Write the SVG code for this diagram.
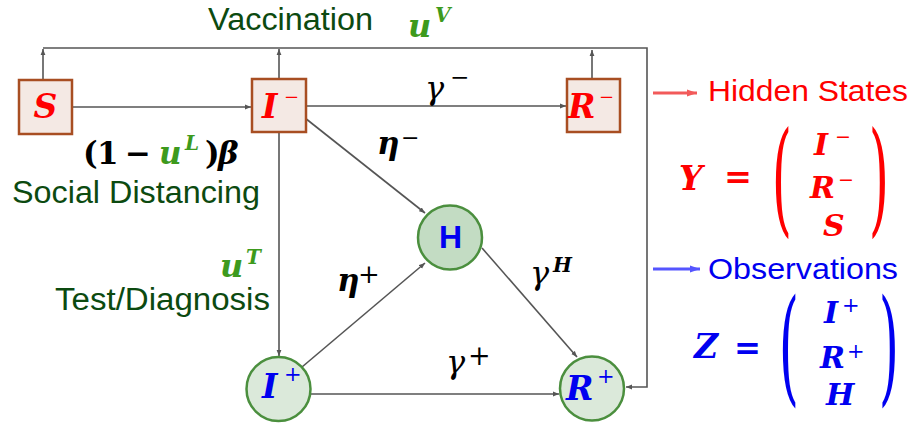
<svg xmlns="http://www.w3.org/2000/svg" width="917" height="425" viewBox="0 0 917 425">
<style>
.box{fill:#f4e9e4;stroke:#a84e22;stroke-width:2.5}
.cir{fill:#dbe9da;stroke:#4b8f3e;stroke-width:2.5}
.cirH{fill:#c3dcc3;stroke:#4b8f3e;stroke-width:2.5}
.ln{fill:none;stroke:#555;stroke-width:1.6}
.sans{font-family:"Liberation Sans",Arial,sans-serif}
.m{font-family:"DejaVu Serif","Liberation Serif",serif;font-style:italic;font-weight:bold}
.mr{font-family:"DejaVu Serif","Liberation Serif",serif;font-style:italic}
.up{font-family:"DejaVu Serif","Liberation Serif",serif;font-style:normal;font-weight:normal}
.ub{font-family:"DejaVu Serif","Liberation Serif",serif;font-style:normal;font-weight:bold}
.dg{fill:#0c4a10}
.gr{fill:#3d9a1d}
.red{fill:#ff0000}
.blue{fill:#0000f0}
.blk{fill:#000}
</style>
<defs>
<marker id="ah" viewBox="0 0 10 10" refX="10" refY="5" markerWidth="6" markerHeight="6" markerUnits="userSpaceOnUse" orient="auto">
<path d="M0,1 L10,5 L0,9 Z" fill="#555"/>
</marker>
<marker id="ahr" viewBox="0 0 10 10" refX="10" refY="5" markerWidth="16" markerHeight="10" markerUnits="userSpaceOnUse" orient="auto">
<path d="M0,1.5 L10,5 L0,8.5 Z" fill="#f25a5a"/>
</marker>
<marker id="ahb" viewBox="0 0 10 10" refX="10" refY="5" markerWidth="16" markerHeight="10" markerUnits="userSpaceOnUse" orient="auto">
<path d="M0,1.5 L10,5 L0,8.5 Z" fill="#5555ff"/>
</marker>
</defs>

<g id="connectors">
<path class="ln" d="M43,48 H647 V387 H626" marker-end="url(#ah)"/>
<path class="ln" d="M43,80 V49" marker-end="url(#ah)"/>
<path class="ln" d="M279,79 V49" marker-end="url(#ah)"/>
<path class="ln" d="M592,79 V50" marker-end="url(#ah)"/>
<path class="ln" d="M72,107 H251" marker-end="url(#ah)"/>
<path class="ln" d="M306,106 H566" marker-end="url(#ah)"/>
<path class="ln" d="M305,118 L425,213" marker-end="url(#ah)"/>
<path class="ln" d="M279,132 V356" marker-end="url(#ah)"/>
<path class="ln" d="M302,367 L425,263" marker-end="url(#ah)"/>
<path class="ln" d="M482,248 L577,357" marker-end="url(#ah)"/>
<path class="ln" d="M311,394 H559" marker-end="url(#ah)"/>
</g>

<g id="node-S">
<rect class="box" x="19" y="80" width="53" height="54"/>
<text class="m red" x="45.5" y="118" font-size="33" text-anchor="middle">S</text>
</g>
<g id="node-Iminus">
<rect class="box" x="252" y="79" width="54" height="53"/>
<text class="m red" x="262" y="118" font-size="33">I<tspan class="up" x="284" y="103" font-size="18">−</tspan></text>
</g>
<g id="node-Rminus">
<rect class="box" x="567" y="79" width="53" height="53"/>
<text class="m red" x="568" y="118" font-size="33">R<tspan class="up" x="599" y="103" font-size="18">−</tspan></text>
</g>
<g id="node-H">
<circle class="cirH" cx="450" cy="237.5" r="32"/>
<text class="sans blue" x="450.5" y="248" font-size="32" font-weight="bold" text-anchor="middle">H</text>
</g>
<g id="node-Iplus">
<circle class="cir" cx="278.5" cy="389" r="32"/>
<text class="m blue" x="262" y="398" font-size="33">I<tspan class="up" x="284" y="381" font-size="21">+</tspan></text>
</g>
<g id="node-Rplus">
<circle class="cir" cx="592" cy="388.5" r="32"/>
<text class="m blue" x="566" y="400" font-size="33">R<tspan class="up" x="597" y="383" font-size="21">+</tspan></text>
</g>

<g id="labels">
<text class="sans dg" x="208" y="30" font-size="31" textLength="165" lengthAdjust="spacingAndGlyphs">Vaccination</text>
<text class="m gr" x="408" y="37" font-size="32">u<tspan x="435" y="22" font-size="20">V</tspan></text>

<text class="ub blk" x="83" y="164" font-size="31">(<tspan x="97">1</tspan><tspan x="125" textLength="26" lengthAdjust="spacingAndGlyphs">−</tspan><tspan class="m gr" x="159">u</tspan><tspan class="m gr" x="185" y="150" font-size="20">L</tspan><tspan x="205" y="164">)</tspan><tspan class="m" x="218">β</tspan></text>
<text class="sans dg" x="12" y="203" font-size="31" textLength="248" lengthAdjust="spacingAndGlyphs">Social Distancing</text>

<text class="m gr" x="220" y="277" font-size="32">u<tspan x="246" y="264" font-size="20">T</tspan></text>
<text class="sans dg" x="55" y="310" font-size="31" textLength="215" lengthAdjust="spacingAndGlyphs">Test/Diagnosis</text>

<text class="mr blk" x="425" y="99" font-size="32">γ<tspan class="up" x="450" y="85" font-size="23">−</tspan></text>
<text class="m blk" x="377" y="154" font-size="31">η<tspan class="up" x="401" y="145" font-size="22">−</tspan></text>
<text class="m blk" x="337" y="291" font-size="31">η<tspan class="up" x="358" y="283" font-size="26">+</tspan></text>
<text class="mr blk" x="530" y="284" font-size="32">γ<tspan class="m" x="553" y="272" font-size="20">H</tspan></text>
<text class="mr blk" x="446" y="373" font-size="32">γ<tspan class="up" x="468" y="365" font-size="27">+</tspan></text>
</g>

<g id="legend-hidden">
<path d="M653,93 H697" stroke="#f25a5a" stroke-width="3" marker-end="url(#ahr)"/>
<text class="sans red" x="708" y="101" font-size="30" textLength="200" lengthAdjust="spacingAndGlyphs">Hidden States</text>
<text class="m red" x="679" y="190" font-size="33">Y</text>
<text class="ub red" x="724" y="188" font-size="34" textLength="28" lengthAdjust="spacingAndGlyphs">=</text>
<text class="up red" font-size="40" text-anchor="middle" transform="translate(782,182.5) scale(1.3,3.1)" y="12">(</text>
<text class="up red" font-size="40" text-anchor="middle" transform="translate(879,182.5) scale(1.3,3.1)" y="12">)</text>
<text class="m red" x="814" y="155" font-size="30">I<tspan class="up" x="835" y="143" font-size="19">−</tspan></text>
<text class="m red" x="810" y="198" font-size="30">R<tspan class="up" x="838" y="186" font-size="19">−</tspan></text>
<text class="m red" x="823" y="236" font-size="30">S</text>
</g>

<g id="legend-observed">
<path d="M653,269 H700" stroke="#5555ff" stroke-width="3" marker-end="url(#ahb)"/>
<text class="sans blue" x="708" y="279" font-size="30" textLength="190" lengthAdjust="spacingAndGlyphs">Observations</text>
<text class="m blue" x="694" y="358" font-size="33">Z</text>
<text class="ub blue" x="734" y="359" font-size="34" textLength="27" lengthAdjust="spacingAndGlyphs">=</text>
<text class="up blue" font-size="40" text-anchor="middle" transform="translate(789,351.5) scale(1.3,3.15)" y="12">(</text>
<text class="up blue" font-size="40" text-anchor="middle" transform="translate(889,351.5) scale(1.3,3.15)" y="12">)</text>
<text class="m blue" x="824" y="323" font-size="30">I<tspan class="up" x="842" y="312" font-size="21">+</tspan></text>
<text class="m blue" x="820" y="368" font-size="30">R<tspan class="up" x="847" y="358" font-size="21">+</tspan></text>
<text class="m blue" x="826" y="405" font-size="30">H</text>
</g>
</svg>
